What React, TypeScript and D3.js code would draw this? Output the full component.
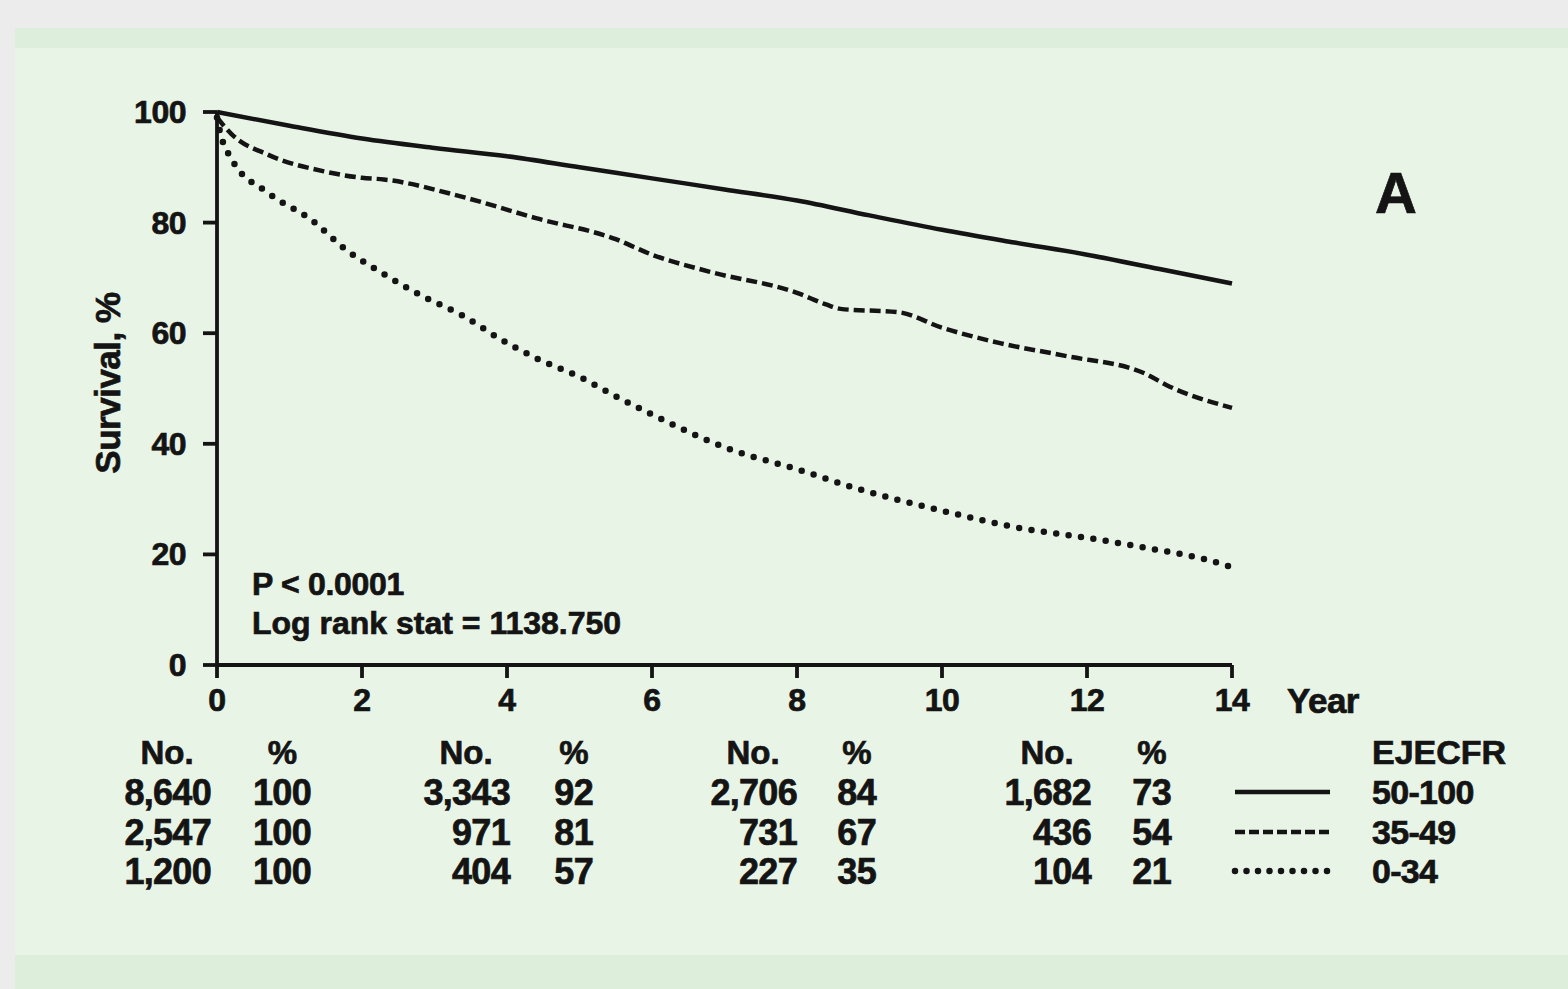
import * as React from 'react'
import * as d3 from 'd3'

// survival curves: [year, survival %]
const ejecfr50to100: [number, number][] = [
    [0, 100], [1, 97.5], [2, 95.2], [3, 93.5], [4, 92], [5, 90], [6, 88], [7, 86],
    [8, 84], [9, 81.3], [10, 78.7], [11, 76.4], [12, 74.2], [13, 71.6], [14, 69],
]
const ejecfr35to49: [number, number][] = [
    [0, 99], [0.2, 96], [0.7, 92.3], [1.5, 89.2], [2, 88.1], [2.3, 87.8], [3.4, 84.6],
    [4.4, 80.8], [5.5, 77], [6, 74.2], [6.8, 71.1], [8, 67.3], [8.4, 65.2], [8.6, 64.4],
    [9.4, 63.8], [10, 61], [10.8, 58.2], [11.7, 55.9], [12.8, 52.7], [13.1, 50.6], [14, 46.5],
]
const ejecfr0to34: [number, number][] = [
    [0, 99], [0.05, 96], [0.2, 91.5], [0.7, 85.4], [1.3, 80.5], [1.8, 74.9], [2.3, 70.7],
    [2.85, 66.6], [3.4, 63.1], [3.9, 59], [4.4, 55.5], [5, 52.1], [5.5, 48.6], [6, 45.3],
    [7.1, 38.9], [8, 35.4], [8.8, 32], [10, 27.9], [11.1, 24.7], [12, 23], [12.8, 21.2],
    [13.6, 19.2], [14, 17.7],
]

const xTicks = [0, 2, 4, 6, 8, 10, 12, 14]
const yTicks = [0, 20, 40, 60, 80, 100]

// numbers at risk table
const tableYears = [0, 4, 8, 12]
const noHigh = ['8,640', '3,343', '2,706', '1,682']
const pctHigh = [100, 92, 84, 73]
const noMid = ['2,547', '971', '731', '436']
const pctMid = [100, 81, 67, 54]
const noLow = ['1,200', '404', '227', '104']
const pctLow = [100, 57, 35, 21]

const legendLabels = ['50-100', '35-49', '0-34']

export default function App() {
    const W = 1568
    const H = 989
    const FONT = '"Liberation Sans", Arial, Helvetica, sans-serif'
    const INK = '#141414'

    const x = d3.scaleLinear().domain([0, 14]).range([217, 1232])
    const y = d3.scaleLinear().domain([0, 100]).range([665, 112])

    const line = d3.line<[number, number]>()
        .x(d => x(d[0]))
        .y(d => y(d[1]))
        .curve(d3.curveMonotoneX)

    const styles = [
        { stroke: INK, strokeWidth: 4.5, dash: undefined as string | undefined, cap: 'butt' as const },
        { stroke: INK, strokeWidth: 4.5, dash: '11 5', cap: 'butt' as const },
        { stroke: INK, strokeWidth: 6.5, dash: '0 12.5', cap: 'round' as const },
    ]
    const series = [ejecfr50to100, ejecfr35to49, ejecfr0to34]
    const rowsNo = [noHigh, noMid, noLow]
    const rowsPct = [pctHigh, pctMid, pctLow]

    const HEAD_Y = 752
    const ROW_Y = [792, 832, 871]
    const NO_OFFSET = [-6, 3, 0, 4]
    const PCT_OFFSET = [94, 86, 79, 84]

    // thin outline thickens the glyphs like the scanned print
    const ink = { fill: INK, stroke: INK, strokeWidth: 0.7 }
    const headFont = { fontFamily: FONT, fontWeight: 700, fontSize: 33, ...ink }
    const numFont = { fontFamily: FONT, fontWeight: 700, fontSize: 36, letterSpacing: -0.7, ...ink }

    return <svg width={W} height={H} viewBox={`0 0 ${W} ${H}`}
        style={{ position: 'absolute', left: 0, top: 0, display: 'block' }}>
        <rect x={0} y={0} width={W} height={H} fill="#ececec" />
        <rect x={15} y={28} width={W - 15} height={H - 28} fill="#e8f4e6" />
        <rect x={15} y={28} width={W - 15} height={20} fill="#ddefdc" />
        <rect x={15} y={955} width={W - 15} height={H - 955} fill="#ddeedb" />

        {/* axes */}
        <g stroke={INK} strokeWidth={3.8} fill="none">
            <line x1={x(0)} x2={x(0)} y1={y(100)} y2={y(0)} />
            <line x1={x(0)} x2={x(14)} y1={y(0)} y2={y(0)} />
            {yTicks.map(t => <line key={'yt' + t} x1={x(0) - 14} x2={x(0)} y1={y(t)} y2={y(t)} />)}
            {xTicks.map(t => <line key={'xt' + t} x1={x(t)} x2={x(t)} y1={y(0)} y2={y(0) + 13} />)}
        </g>
        <g fontFamily={FONT} fontWeight={700} fontSize={32} {...ink} letterSpacing={-0.5}>
            {yTicks.map(t =>
                <text key={'yl' + t} x={x(0) - 31} y={y(t)} textAnchor="end" dominantBaseline="central">{t}</text>
            )}
            {xTicks.map(t =>
                <text key={'xl' + t} x={x(t)} y={700} textAnchor="middle" dominantBaseline="central">{t}</text>
            )}
            <text x={1287} y={700} dominantBaseline="central" fontSize={35}>Year</text>
            <text transform={`translate(107 383) rotate(-90)`} textAnchor="middle" dominantBaseline="central" fontSize={35}>Survival, %</text>
        </g>

        {/* curves */}
        {series.map((s, i) =>
            <path key={'s' + i} d={line(s) || ''} fill="none" stroke={styles[i].stroke}
                strokeWidth={styles[i].strokeWidth} strokeDasharray={styles[i].dash}
                strokeLinecap={styles[i].cap} strokeLinejoin="round" />
        )}

        <text x={1375} y={213} fontFamily={FONT} fontWeight={700} fontSize={58} {...ink}>A</text>

        <g fontFamily={FONT} fontWeight={700} fontSize={32} {...ink}>
            <text x={252} y={595} letterSpacing={-0.3}>P &lt; 0.0001</text>
            <text x={252} y={634} letterSpacing={0}>Log rank stat = 1138.750</text>
        </g>

        {/* numbers at risk */}
        <g>
            {tableYears.map((yr, c) => {
                const noRight = x(yr) + NO_OFFSET[c]
                const pctRight = x(yr) + PCT_OFFSET[c]
                const pctWidth = c === 0 ? 57 : 38
                return <g key={'col' + c}>
                    <text x={noRight - 44} y={HEAD_Y} textAnchor="middle" dominantBaseline="central" {...headFont}>No.</text>
                    <text x={pctRight - pctWidth / 2} y={HEAD_Y} textAnchor="middle" dominantBaseline="central" {...headFont}>%</text>
                    {rowsNo.map((r, k) =>
                        <text key={'n' + k} x={noRight} y={ROW_Y[k]} textAnchor="end" dominantBaseline="central" {...numFont}>{r[c]}</text>
                    )}
                    {rowsPct.map((r, k) =>
                        <text key={'p' + k} x={pctRight} y={ROW_Y[k]} textAnchor="end" dominantBaseline="central" {...numFont}>{r[c]}</text>
                    )}
                </g>
            })}
        </g>

        {/* legend */}
        <text x={1372} y={HEAD_Y} dominantBaseline="central" {...headFont} fontSize={34}>EJECFR</text>
        {legendLabels.map((lab, i) =>
            <g key={'lg' + i}>
                <line x1={1235} x2={1330} y1={ROW_Y[i]} y2={ROW_Y[i]} stroke={styles[i].stroke}
                    strokeWidth={styles[i].strokeWidth} strokeDasharray={i === 1 ? '10 4' : i === 2 ? '0 11.5' : undefined}
                    strokeLinecap={styles[i].cap} />
                <text x={1372} y={ROW_Y[i]} dominantBaseline="central" {...numFont} fontSize={34}>{lab}</text>
            </g>
        )}
    </svg>
}
